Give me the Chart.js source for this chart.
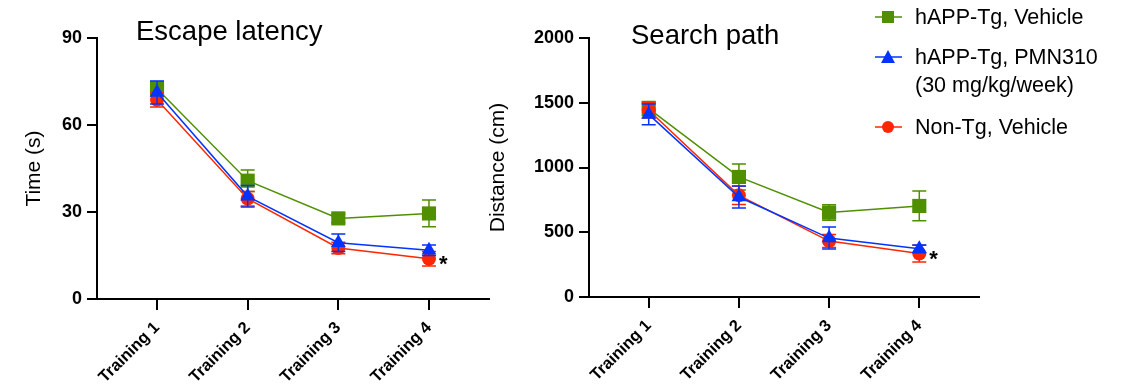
<!DOCTYPE html>
<html>
<head>
<meta charset="utf-8">
<script src="https://cdn.jsdelivr.net/npm/chart.js@4.4.1/dist/chart.umd.min.js"></script>
<style>
  body { margin: 0; background: #fff; font-family: "Liberation Sans", Arial, sans-serif; }
  #wrap { position: relative; width: 1124px; height: 387px; overflow: hidden; background: #fff; }
  canvas { position: absolute; top: 0; }
  #latencyChart { left: 0; }
  #pathChart { left: 480px; }
  .leg { position: absolute; left: 875px; font-size: 21.5px; line-height: 28px; color: #000; }
  .leg svg { position: absolute; left: 0; top: 7px; }
  .leg span { position: absolute; left: 40px; top: 0; white-space: nowrap; }
</style>
</head>
<body>
<div id="wrap">
  <canvas id="latencyChart" width="500" height="387"></canvas>
  <canvas id="pathChart" width="500" height="387"></canvas>

  <div class="leg" style="top:3px">
    <svg width="28" height="14"><line x1="0" y1="7" x2="27" y2="7" stroke="#4f8f00" stroke-width="1.5"/><rect x="7" y="1" width="12" height="12" fill="#4f8f00"/></svg>
    <span>hAPP-Tg, Vehicle</span>
  </div>
  <div class="leg" style="top:43px">
    <svg width="28" height="14"><line x1="0" y1="7" x2="27" y2="7" stroke="#0433ff" stroke-width="1.5"/><polygon points="13,0 20,13 6,13" fill="#0433ff"/></svg>
    <span>hAPP-Tg, PMN310<br>(30 mg/kg/week)</span>
  </div>
  <div class="leg" style="top:113px">
    <svg width="28" height="14"><line x1="0" y1="7" x2="27" y2="7" stroke="#ff2600" stroke-width="1.5"/><circle cx="13" cy="7" r="6" fill="#ff2600"/></svg>
    <span>Non-Tg, Vehicle</span>
  </div>
</div>

<script>
// --- data ---
const trainingLabels = ["Training 1", "Training 2", "Training 3", "Training 4"];
const seriesNames = ["hAPP-Tg, Vehicle", "hAPP-Tg, PMN310 (30 mg/kg/week)", "Non-Tg, Vehicle"];

// Escape latency (s), mean and SEM
const latencyVehicle = [72.5, 40.8, 27.8, 29.5];
const latencyVehicleSem = [2.5, 3.7, 1.5, 4.6];
const latencyPmn = [71.2, 35.4, 19.4, 16.8];
const latencyPmnSem = [4.0, 3.7, 3.0, 1.8];
const latencyNonTg = [68.7, 34.6, 17.6, 13.9];
const latencyNonTgSem = [2.5, 2.5, 2.0, 2.5];
const latencyTicks = [0, 30, 60, 90];

// Search path (cm), mean and SEM
const pathVehicle = [1455, 927, 652, 703];
const pathVehicleSem = [55, 100, 60, 115];
const pathPmn = [1410, 772, 455, 372];
const pathPmnSem = [80, 85, 85, 30];
const pathNonTg = [1442, 785, 432, 335];
const pathNonTgSem = [60, 70, 50, 65];
const pathTicks = [0, 500, 1000, 1500, 2000];

const GREEN = "#4f8f00", BLUE = "#0433ff", RED = "#ff2600";
const FONT = "'Liberation Sans', Arial, sans-serif";

// error bars drawn under each dataset's own line/markers
const errorBars = {
  id: "errorBars",
  beforeDatasetDraw(chart, args) {
    const ds = chart.data.datasets[args.index];
    if (!ds.sem) return;
    const { x, y } = chart.scales;
    const ctx = chart.ctx;
    ctx.save();
    ctx.strokeStyle = ds.borderColor;
    ctx.lineWidth = 1.5;
    ds.data.forEach((p, i) => {
      const px = x.getPixelForValue(p.x);
      const top = y.getPixelForValue(p.y + ds.sem[i]);
      const bot = y.getPixelForValue(p.y - ds.sem[i]);
      ctx.beginPath();
      ctx.moveTo(px, top); ctx.lineTo(px, bot);
      ctx.moveTo(px - 7, top); ctx.lineTo(px + 7, top);
      ctx.moveTo(px - 7, bot); ctx.lineTo(px + 7, bot);
      ctx.stroke();
    });
    ctx.restore();
  }
};

// panel title + significance star
const panelText = {
  id: "panelText",
  afterDraw(chart, args, opts) {
    const ctx = chart.ctx;
    const { x, y } = chart.scales;
    ctx.save();
    ctx.fillStyle = "#000";
    ctx.textBaseline = "alphabetic";
    ctx.font = "27.5px " + FONT;
    ctx.fillText(opts.title, opts.titleX, opts.titleY);
    ctx.font = "bold 22px " + FONT;
    ctx.textBaseline = "middle";
    ctx.fillText("*", x.getPixelForValue(4) + 10, y.getPixelForValue(opts.starValue) + 6);
    ctx.restore();
  }
};

function series(label, values, sem, color, style, radius, order) {
  return {
    label,
    data: values.map((v, i) => ({ x: i + 1, y: v })),
    sem,
    borderColor: color,
    backgroundColor: color,
    borderWidth: 1.5,
    pointStyle: style,
    pointRadius: radius,
    pointBorderWidth: 0,
    order
  };
}

function buildConfig(o) {
  return {
    type: "line",
    data: {
      datasets: [
        series(seriesNames[0], o.vehicle, o.vehicleSem, GREEN, "rect", 10, 3),
        series(seriesNames[1], o.pmn, o.pmnSem, BLUE, "triangle", 8.5, 1),
        series(seriesNames[2], o.nonTg, o.nonTgSem, RED, "circle", 7, 2)
      ]
    },
    options: {
      responsive: false,
      animation: false,
      layout: { autoPadding: false, padding: { left: 0, top: 38, right: o.padRight, bottom: 0 } },
      plugins: {
        legend: { display: false },
        tooltip: { enabled: false },
        panelText: { title: o.title, titleX: o.titleX, titleY: o.titleY, starValue: o.nonTg[3] }
      },
      scales: {
        x: {
          type: "linear",
          min: 0.338,
          max: 4.662,
          afterBuildTicks: s => { s.ticks = trainingLabels.map((_, i) => ({ value: i + 1 })); },
          afterFit: s => { s.height = o.xHeight; s.paddingLeft = 0; s.paddingRight = 0; },
          border: { color: "#000", width: 2 },
          grid: { drawOnChartArea: false, color: "#000", lineWidth: 2, tickLength: 11 },
          ticks: {
            color: "#000",
            font: { family: FONT, size: 16.5, weight: "bold" },
            minRotation: 45, maxRotation: 45, autoSkip: false, padding: 8,
            callback: v => trainingLabels[v - 1]
          }
        },
        y: {
          min: o.ticks[0],
          max: o.ticks[o.ticks.length - 1],
          afterBuildTicks: s => { s.ticks = o.ticks.map(v => ({ value: v })); },
          afterFit: s => { s.width = o.yWidth; },
          border: { color: "#000", width: 2 },
          grid: { drawOnChartArea: false, color: "#000", lineWidth: 2, tickLength: 10 },
          ticks: {
            color: "#000", font: { family: FONT, size: 18, weight: "bold" }, padding: 5,
            callback: v => String(v)
          },
          title: {
            display: true, text: o.yTitle, color: "#000",
            font: { family: FONT, size: 21 },
            padding: { top: o.yTitlePad, bottom: 0 }
          }
        }
      }
    },
    plugins: [errorBars, panelText]
  };
}

new Chart(document.getElementById("latencyChart"), buildConfig({
  vehicle: latencyVehicle, vehicleSem: latencyVehicleSem,
  pmn: latencyPmn, pmnSem: latencyPmnSem,
  nonTg: latencyNonTg, nonTgSem: latencyNonTgSem,
  ticks: latencyTicks,
  title: "Escape latency", titleX: 136, titleY: 40,
  yTitle: "Time (s)", yTitlePad: 22,
  yWidth: 97, xHeight: 88, padRight: 11
}));

new Chart(document.getElementById("pathChart"), buildConfig({
  vehicle: pathVehicle, vehicleSem: pathVehicleSem,
  pmn: pathPmn, pmnSem: pathPmnSem,
  nonTg: pathNonTg, nonTgSem: pathNonTgSem,
  ticks: pathTicks,
  title: "Search path", titleX: 151, titleY: 44,
  yTitle: "Distance (cm)", yTitlePad: 6,
  yWidth: 109, xHeight: 90, padRight: 1
}));
</script>
</body>
</html>
